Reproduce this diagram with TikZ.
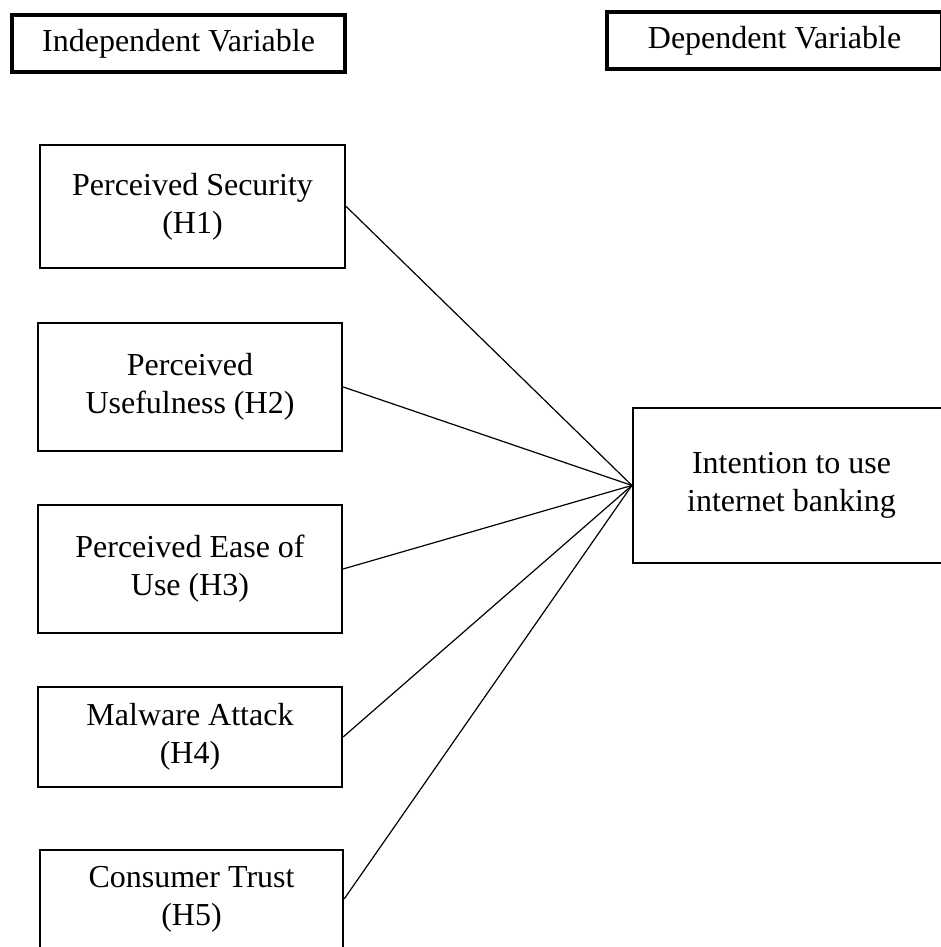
\documentclass[tikz,border=0pt]{standalone}
\usepackage{fontspec}
\setmainfont{Liberation Serif}
\usepackage{tikz}
\usetikzlibrary{positioning}

\begin{document}
\begin{tikzpicture}[
  font=\fontsize{12}{14.25}\selectfont,
  box/.style={draw, rectangle, minimum width=4.007cm, minimum height=1.687cm, align=center, inner sep=0pt, line width=0.85pt},
  headbox/.style={draw, rectangle, minimum height=0.751cm, align=center, inner sep=0pt, line width=1.5pt},
  link/.style={line width=0.45pt},
]
\useasboundingbox (0,0) rectangle (12.389,12.481);
\node[headbox, minimum width=4.389cm] (indep) at (2.353,11.908) {Independent Variable};
\node[headbox, minimum width=4.415cm] (dep) at (10.208,11.948) {Dependent Variable};
\node[box, minimum width=4.020cm, minimum height=1.621cm] (sec) at (2.537,9.760) {Perceived Security\\(H1)};
\node[box] (use) at (2.504,7.381) {Perceived\\Usefulness (H2)};
\node[box] (ease) at (2.504,4.982) {Perceived Ease of\\Use (H3)};
\node[box, minimum height=1.318cm] (mal) at (2.504,2.768) {Malware Attack\\(H4)};
\node[box, minimum width=3.994cm, minimum height=1.292cm] (trust) at (2.524,0.633) {Consumer Trust\\(H5)};
\node[box, minimum width=4.178cm, minimum height=2.043cm] (intent) at (10.432,6.083) {Intention to use\\internet banking};
\draw[link] (sec.east) -- (intent.west);
\draw[link] (use.east) -- (intent.west);
\draw[link] (ease.east) -- (intent.west);
\draw[link] (mal.east) -- (intent.west);
\draw[link] (trust.east) -- (intent.west);
\end{tikzpicture}
\end{document}
